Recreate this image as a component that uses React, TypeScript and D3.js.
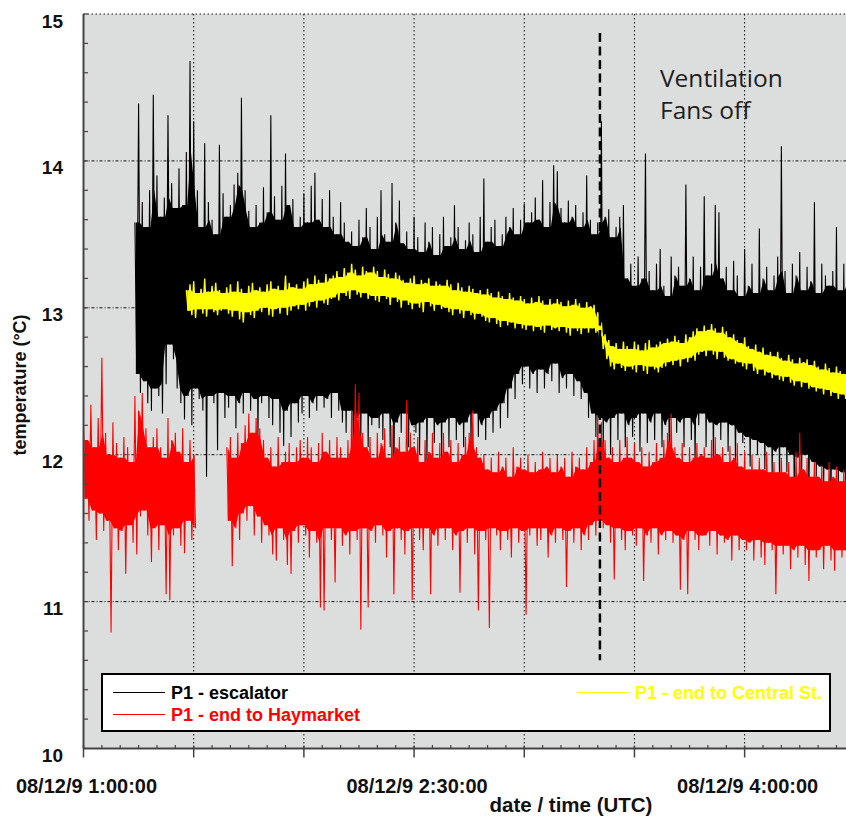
import React, { useEffect, useRef } from 'react';
import * as d3 from 'd3';

// minutes after 08/12/9 1:00:00, one high/low pair per minute
const escalatorStart = 14;
const escalatorHigh = [
  13.58, 14.39, 13.72, 13.55, 13.8, 14.45, 13.9, 13.62, 13.75, 14.31,
  13.85, 13.68, 13.95, 13.7, 14.06, 14.68, 14.27, 13.8, 13.55, 14.12,
  13.72, 13.6, 13.5, 14.11, 13.78, 13.62, 13.7, 13.84, 13.92, 14.43,
  13.8, 13.66, 13.55, 13.7, 13.58, 13.82, 13.65, 14.31, 13.76, 13.6,
  13.83, 14.05, 13.7, 13.74, 13.55, 13.62, 13.78, 13.58, 13.83, 13.92,
  13.6, 13.74, 13.55, 13.8, 13.62, 13.5, 13.72, 13.58, 13.45, 13.52,
  13.42, 13.6, 13.48, 13.68, 13.55, 13.4, 13.62, 13.8, 13.5, 13.45,
  13.85, 13.58, 13.73, 13.44, 13.52, 13.4, 13.62, 13.48, 13.38, 13.58,
  13.45, 13.55, 13.36, 13.5, 13.62, 13.42, 13.48, 13.7, 13.55, 13.4,
  13.46, 13.58, 13.5, 13.38, 13.62, 13.88, 13.45, 13.55, 13.6, 13.42,
  13.5, 13.62, 13.55, 13.68, 13.5, 13.6, 13.71, 13.58, 13.65, 13.75,
  13.6, 13.87, 13.55, 13.72, 13.97, 13.93, 13.68, 13.58, 13.73, 13.62,
  13.7, 13.55, 13.65, 13.9, 13.6, 13.5, 13.58, 14.27, 13.62, 13.67,
  13.48, 13.55, 13.62, 13.7, 13.2, 13.3, 13.15, 13.35, 13.2, 14.05,
  13.25, 13.12, 13.3, 13.4, 13.15, 13.08, 13.35, 13.22, 13.28, 13.15,
  13.84, 13.2, 13.35, 13.12, 13.28, 13.76, 13.22, 13.3, 13.7, 13.65,
  13.2, 13.28, 13.12, 13.32, 13.22, 13.08, 13.4, 13.15, 13.3, 13.1,
  13.54, 13.2, 13.28, 13.12, 13.22, 13.35, 14.1, 13.25, 13.1, 13.3,
  13.22, 13.38, 13.12, 13.28, 13.18, 13.72, 13.1, 13.3, 13.22, 13.15,
  13.25, 13.55, 13.12, 13.3, 13.18,
];
const escalatorLow = [
  12.55, 12.42, 12.5, 12.35, 12.3, 12.45, 12.4, 12.28, 12.48, 12.75,
  12.65, 12.45, 12.35, 12.24, 12.4, 12.2, 12.45, 12.38, 12.3, 11.85,
  12.4, 12.35, 12.03, 12.42, 12.25, 12.32, 12.4, 12.18, 12.35, 12.28,
  12.42, 12.3, 12.38, 12.12, 12.35, 12.4, 12.25, 12.2, 12.38, 12.15,
  12.06, 12.3, 12.12, 12.35, 12.22, 12.28, 12.4, 12.25, 12.35, 12.3,
  12.4, 12.32, 12.38, 12.25, 12.42, 12.3, 12.22, 12.15, 12.3, 11.85,
  12.25, 12.1, 12.28, 12.05, 12.2, 12.25, 12.18, 12.1, 12.28, 12.05,
  11.76, 12.22, 12.15, 12.28, 12.05, 12.2, 12.15, 12.0, 12.22, 11.95,
  12.25, 12.08, 12.2, 11.98, 12.22, 12.05, 12.25, 12.1, 12.2, 12.05,
  12.22, 12.05, 12.28, 12.12, 12.2, 12.1, 12.25, 12.15, 12.3, 12.18,
  12.35, 12.25, 12.45, 12.38, 12.55, 12.48, 12.6, 12.45, 12.55, 12.42,
  12.58, 12.45, 12.55, 12.5, 12.62, 12.42, 12.52, 12.45, 12.55, 12.4,
  12.5, 12.38, 12.42, 12.25, 12.28, 12.12, 12.25, 12.05, 12.22, 12.0,
  12.25, 12.1, 12.28, 12.05, 12.2, 12.12, 12.25, 12.02, 12.28, 12.08,
  12.22, 12.1, 12.28, 12.05, 12.2, 12.0, 12.25, 12.15, 12.22, 12.05,
  12.25, 12.1, 11.95, 12.2, 12.28, 12.05, 12.22, 11.98, 12.2, 12.1,
  12.22, 12.02, 12.2, 11.95, 12.15, 12.08, 12.12, 11.92, 12.1, 12.0,
  12.08, 11.9, 12.05, 11.85, 12.02, 11.8, 12.05, 11.88, 12.0, 11.75,
  11.98, 11.82, 12.0, 11.7, 11.95, 11.85, 11.92, 11.72, 11.9, 11.68,
  11.9, 11.75, 11.88, 11.7, 11.85,
];

// null = logger gap
const haymarketStart = 0;
const haymarketHigh = [
  12.2, 12.1, 12.34, 12.05, 12.25, 12.66, 12.15, 12.0, 12.22, 12.08,
  11.98, 12.12, 12.05, 11.95, 12.4, 12.3, 12.42, 12.18, 12.05, 12.12,
  12.18, 12.05, 11.98, 12.25, 12.1, 12.15, 12.02, 12.18, 11.95, 12.1,
  12.0, null, null, null, null, null, null, null, null,
  12.05, 12.12, 11.98, 12.15, 12.08, 12.2, 12.28, 12.15, 12.25, 12.18,
  12.1, 11.98, 12.05, 11.92, 12.12, 11.95, 12.02, 12.08, 11.95, 12.05,
  12.1, 11.98, 12.12, 12.05, 11.95, 12.08, 12.15, 12.02, 12.1, 11.98,
  12.12, 12.05, 11.98, 12.1, 12.3, 12.48, 12.42, 12.15, 12.05, 12.12,
  11.98, 12.15, 12.08, 12.18, 11.98, 12.2, 12.05, 12.12, 12.02, 12.37,
  12.15, 12.05, 12.12, 11.95, 12.1, 12.02, 12.15, 11.98, 12.08, 12.15,
  12.02, 12.1, 11.95, 12.08, 12.0, 12.12, 12.15, 12.3, 12.05, 11.98,
  12.0, 11.9, 11.98, 11.88, 12.02, 11.92, 11.98, 11.85, 12.05, 11.92,
  11.98, 11.9, 12.0, 11.88, 11.95, 11.9, 12.02, 11.92, 11.98, 11.88,
  12.0, 11.92, 11.98, 11.85, 12.02, 11.92, 11.98, 11.9, 12.05, 11.95,
  12.1, 12.27, 12.22, 12.1, 11.98, 12.05, 11.95, 12.1, 11.98, 12.12,
  11.98, 12.08, 11.95, 12.05, 11.92, 12.02, 11.95, 12.08, 11.98, 12.1,
  12.15, 12.28, 12.05, 11.98, 12.08, 11.95, 12.05, 11.98, 12.08, 12.0,
  12.05, 11.98, 12.1, 12.12, 12.0, 12.05, 11.95, 12.06, 11.98, 12.08,
  11.92, 12.02, 11.9, 12.0, 11.9, 11.98, 11.9, 12.02, 11.88, 11.95,
  11.88, 11.98, 11.88, 11.95, 11.85, 12.02, 12.15, 11.9, 11.98, 11.85,
  11.95, 11.85, 11.92, 11.82, 11.95, 11.85, 11.92, 11.82, 11.9, 11.85,
];
const haymarketLow = [
  11.7, 11.55, 11.62, 11.42, 11.6, 11.48, 11.55, 10.79, 11.5, 11.35,
  11.48, 11.19, 11.52, 11.4, 11.32, 11.58, 11.62, 11.45, 11.27, 11.5,
  11.35, 11.52, 11.05, 11.01, 11.45, 11.5, 11.38, 11.33, 11.55, 11.42,
  11.5, null, null, null, null, null, null, null, null,
  11.55, 11.24, 11.5, 11.42, 11.6, 11.55, 11.65, 11.45, 11.58, 11.4,
  11.52, 11.45, 11.32, 11.28, 11.5, 11.42, 11.25, 11.19, 11.48, 11.4,
  11.52, 11.45, 11.3, 11.48, 11.4, 10.96, 10.94, 11.5, 11.42, 11.13,
  11.5, 11.38, 11.45, 11.32, 11.48, 11.42, 10.81, 11.5, 10.96, 11.48,
  11.4, 11.52, 11.45, 11.3, 11.48, 11.05, 11.5, 11.42, 11.32, 11.48,
  11.01, 11.5, 11.42, 11.35, 11.5, 11.05, 11.45, 11.38, 11.5, 11.42,
  11.5, 11.35, 11.45, 11.06, 11.48, 11.4, 11.5, 11.32, 10.94, 11.48,
  11.42, 10.82, 11.5, 11.45, 11.35, 11.48, 11.42, 11.3, 11.5, 11.4,
  11.48, 10.91, 11.45, 11.5, 11.38, 11.42, 11.5, 11.3, 11.45, 11.4,
  11.5, 11.42, 11.1, 11.48, 11.4, 11.5, 11.35, 11.45, 11.42, 11.52,
  11.45, 11.55, 11.5, 11.52, 11.4, 11.15, 11.5, 11.42, 11.35, 11.48,
  11.45, 11.38, 11.5, 11.14, 11.45, 11.4, 11.5, 11.32, 11.45, 11.42,
  11.48, 11.4, 11.45, 11.08, 11.42, 11.05, 11.48, 11.42, 11.35, 11.45,
  11.45, 11.38, 11.48, 11.32, 11.45, 11.4, 11.42, 11.28, 11.45, 11.35,
  11.42, 11.35, 11.4, 11.28, 11.42, 11.3, 11.25, 11.4, 11.35, 11.05,
  11.38, 11.32, 11.38, 11.22, 11.35, 11.3, 11.38, 11.25, 11.14, 11.35,
  11.3, 11.35, 11.22, 11.38, 11.28, 11.21, 11.35, 11.3, 11.35, 11.25,
];

const centralStart = 28;
const centralHigh = [
  13.12, 13.16, 13.18, 13.1, 13.13, 13.2, 13.11, 13.15, 13.17, 13.12,
  13.1, 13.14, 13.16, 13.11, 13.18, 13.13, 13.1, 13.15, 13.17, 13.12,
  13.14, 13.11, 13.16, 13.18, 13.13, 13.15, 13.12, 13.22, 13.17, 13.14,
  13.16, 13.13, 13.18, 13.2, 13.16, 13.22, 13.19, 13.17, 13.23, 13.2,
  13.22, 13.25, 13.21, 13.27, 13.24, 13.3, 13.26, 13.22, 13.28, 13.25,
  13.24, 13.28, 13.25, 13.21, 13.26, 13.23, 13.2, 13.24, 13.22, 13.19,
  13.17, 13.2, 13.22, 13.16, 13.19, 13.17, 13.2, 13.15, 13.18, 13.16,
  13.15, 13.19, 13.16, 13.12, 13.17, 13.14, 13.11, 13.15, 13.13, 13.1,
  13.12, 13.09, 13.13, 13.1, 13.07, 13.11, 13.08, 13.06, 13.1, 13.07,
  13.05, 13.08, 13.06, 13.03, 13.07, 13.04, 13.08, 13.05, 13.02, 13.06,
  13.03, 13.06, 13.04, 13.01, 13.05, 13.02, 13.06, 13.03, 13.0, 13.04,
  13.01, 13.02, 12.97, 12.9, 12.82, 12.78, 12.74, 12.76, 12.72, 12.77,
  12.74, 12.72, 12.77, 12.75, 12.71, 12.76, 12.78, 12.73, 12.75, 12.77,
  12.76, 12.79, 12.77, 12.81, 12.78, 12.76, 12.82, 12.8, 12.84, 12.86,
  12.84, 12.88, 12.85, 12.89, 12.86, 12.83, 12.87, 12.84, 12.8, 12.82,
  12.78, 12.76, 12.8, 12.74, 12.72, 12.75, 12.7, 12.73, 12.68, 12.7,
  12.67, 12.7, 12.66, 12.64, 12.68, 12.65, 12.62, 12.66, 12.63, 12.65,
  12.61, 12.64, 12.6, 12.58, 12.62, 12.59, 12.56, 12.6, 12.57, 12.55,
  12.57,
];
const centralLow = [
  12.98, 12.95, 12.93, 12.99, 12.96, 12.94, 12.99, 12.97, 12.95, 12.98,
  12.99, 12.96, 12.94, 12.98, 12.92, 12.9, 12.97, 12.95, 12.93, 12.98,
  12.97, 13.0, 12.95, 12.94, 12.99, 12.96, 13.0, 12.95, 12.98, 13.01,
  12.99, 13.02, 12.98, 13.01, 13.04, 13.0, 13.05, 13.03, 13.02, 13.06,
  13.07, 13.05, 13.1, 13.08, 13.06, 13.12, 13.09, 13.07, 13.1, 13.06,
  13.08, 13.05, 13.04, 13.08, 13.06, 13.02, 13.07, 13.04, 13.0, 13.05,
  13.02, 12.99, 13.03, 13.0, 12.97, 13.04, 13.01, 12.98, 13.02, 12.99,
  13.0, 12.97, 12.95, 12.99, 12.96, 12.93, 12.98, 12.95, 12.92, 12.96,
  12.94, 12.91, 12.9, 12.93, 12.89, 12.87, 12.91, 12.88, 12.9, 12.86,
  12.89, 12.86, 12.85, 12.88, 12.84, 12.87, 12.85, 12.83, 12.88, 12.85,
  12.86, 12.84, 12.87, 12.83, 12.81, 12.86, 12.84, 12.82, 12.86, 12.83,
  12.86, 12.83, 12.8, 12.72, 12.65, 12.6, 12.58, 12.62, 12.59, 12.57,
  12.6, 12.58, 12.56, 12.61, 12.57, 12.55, 12.6, 12.58, 12.56, 12.59,
  12.6, 12.63, 12.61, 12.64, 12.6, 12.65, 12.63, 12.66, 12.64, 12.68,
  12.7, 12.67, 12.71, 12.68, 12.65, 12.7, 12.66, 12.64, 12.65, 12.62,
  12.63, 12.6, 12.58, 12.62, 12.57, 12.55, 12.58, 12.54, 12.56, 12.52,
  12.54, 12.51, 12.5, 12.53, 12.49, 12.47, 12.5, 12.46, 12.49, 12.45,
  12.46, 12.43, 12.45, 12.41, 12.44, 12.4, 12.42, 12.38, 12.41, 12.38,
  12.4,
];

const timeTicks = [0, 90, 180];
const timeTickLabels = ['08/12/9 1:00:00', '08/12/9 2:30:00', '08/12/9 4:00:00'];
const tempTicks = [10, 11, 12, 13, 14, 15];
const fansOffMinute = 140.6;
const fansOffRange = [10.6, 14.87];

type Pt = { t: number; v: number | null };
type Band = { t: number; top: number | null; bottom: number | null };

const zigzag = (start: number, high: (number | null)[], low: (number | null)[]): Pt[] =>
  high.flatMap((h, i) => [
    { t: start + i, v: h },
    { t: start + i + 0.5, v: low[i] },
  ]);

// solid core of the trace: lowest peak / highest trough of neighbouring minutes
const coreBand = (start: number, high: (number | null)[], low: (number | null)[]): Band[] =>
  high.map((h, i) => {
    if (h == null || low[i] == null) return { t: start + i, top: null, bottom: null };
    const hs = [high[i - 1], h, high[i + 1]].filter((v): v is number => v != null);
    const ls = [low[i - 1], low[i], low[i + 1]].filter((v): v is number => v != null);
    return { t: start + i + 0.25, top: d3.min(hs) ?? h, bottom: d3.max(ls) ?? (low[i] as number) };
  });

const App: React.FC = () => {
  const svgRef = useRef<SVGSVGElement | null>(null);
  const width = 846;
  const height = 819;

  useEffect(() => {
    if (!svgRef.current) return;
    const svg = d3.select(svgRef.current);
    svg.selectAll('*').remove();

    const left = 83.5;
    const top = 14;
    const bottom = 748.5;
    const pxPerMinute = 3.673;

    const x = d3.scaleLinear().domain([0, 210]).range([left, left + 210 * pxPerMinute]);
    const y = d3.scaleLinear().domain([10, 15]).range([bottom, top]);

    svg.append('rect').attr('width', width).attr('height', height).attr('fill', '#ffffff');

    svg
      .append('rect')
      .attr('x', left)
      .attr('y', top)
      .attr('width', width - left)
      .attr('height', bottom - top)
      .attr('fill', '#dcdddd');

    svg
      .append('defs')
      .append('clipPath')
      .attr('id', 'plot-clip')
      .append('rect')
      .attr('x', left)
      .attr('y', top)
      .attr('width', width - left)
      .attr('height', bottom - top);

    // grid
    const grid = svg.append('g');
    grid
      .selectAll('.hgrid')
      .data(tempTicks.filter(d => d > 10))
      .join('line')
      .attr('x1', left)
      .attr('x2', width)
      .attr('y1', d => y(d))
      .attr('y2', d => y(d))
      .attr('stroke', '#111')
      .attr('stroke-width', 1)
      .attr('stroke-dasharray', d => (d === 15 ? '1.5 2.5' : '3 2 1 2'));

    grid
      .selectAll('.vgrid')
      .data(d3.range(30, 211, 30))
      .join('line')
      .attr('x1', d => x(d))
      .attr('x2', d => x(d))
      .attr('y1', top)
      .attr('y2', bottom)
      .attr('stroke', '#111')
      .attr('stroke-width', 1)
      .attr('stroke-dasharray', '1.5 2.5');

    const plot = svg.append('g').attr('clip-path', 'url(#plot-clip)');
    const line = d3
      .line<Pt>()
      .defined(d => d.v != null)
      .x(d => x(d.t))
      .y(d => y(d.v as number));
    const area = d3
      .area<Band>()
      .defined(d => d.top != null)
      .x(d => x(d.t))
      .y0(d => y(d.bottom as number))
      .y1(d => y(d.top as number));

    const series = [
      { start: escalatorStart, high: escalatorHigh, low: escalatorLow, color: '#000000', width: 1.1 },
      { start: haymarketStart, high: haymarketHigh, low: haymarketLow, color: '#ff0000', width: 1.1 },
      { start: centralStart, high: centralHigh, low: centralLow, color: '#ffff00', width: 1.4 },
    ];
    series.forEach(s => {
      plot
        .append('path')
        .datum(coreBand(s.start, s.high, s.low))
        .attr('fill', s.color)
        .attr('d', area);
      plot
        .append('path')
        .datum(zigzag(s.start, s.high, s.low))
        .attr('fill', 'none')
        .attr('stroke', s.color)
        .attr('stroke-width', s.width)
        .attr('d', line);
    });

    plot
      .append('line')
      .attr('x1', x(fansOffMinute))
      .attr('x2', x(fansOffMinute))
      .attr('y1', y(fansOffRange[1]))
      .attr('y2', y(fansOffRange[0]))
      .attr('stroke', '#000')
      .attr('stroke-width', 2.5)
      .attr('stroke-dasharray', '9 4.5');

    // axes
    const axis = svg.append('g').attr('stroke', '#444');
    axis.append('line').attr('x1', left).attr('x2', left).attr('y1', top).attr('y2', bottom).attr('stroke-width', 2);
    axis.append('line').attr('x1', left).attr('x2', width).attr('y1', bottom).attr('y2', bottom).attr('stroke-width', 2);

    axis
      .selectAll('.ytick')
      .data(d3.range(10.2, 15, 0.2))
      .join('line')
      .attr('x1', left)
      .attr('x2', left + 4.5)
      .attr('y1', d => y(d))
      .attr('y2', d => y(d))
      .attr('stroke-width', 1.2);

    axis
      .selectAll('.xminor')
      .data(d3.range(5, 211, 5).filter(d => d % 30 !== 0))
      .join('line')
      .attr('x1', d => x(d))
      .attr('x2', d => x(d))
      .attr('y1', bottom - 3.5)
      .attr('y2', bottom)
      .attr('stroke-width', 1.2);

    axis
      .selectAll('.xmajor')
      .data(d3.range(0, 211, 30))
      .join('line')
      .attr('x1', d => x(d))
      .attr('x2', d => x(d))
      .attr('y1', bottom - 3)
      .attr('y2', bottom + 9)
      .attr('stroke-width', 1.5);

    const labels = svg
      .append('g')
      .attr('font-family', '"Liberation Sans", Arial, sans-serif')
      .attr('font-weight', 700)
      .attr('fill', '#111');

    labels
      .selectAll('.ylabel')
      .data(tempTicks)
      .join('text')
      .attr('x', 63)
      .attr('y', d => y(d) + 13.5)
      .attr('text-anchor', 'end')
      .attr('font-size', 19)
      .text(d => String(d));

    labels
      .selectAll('.xlabel')
      .data(timeTicks)
      .join('text')
      .attr('x', d => x(d) + 3)
      .attr('y', 793)
      .attr('text-anchor', 'middle')
      .attr('font-size', 20)
      .text((_, i) => timeTickLabels[i]);

    labels
      .append('text')
      .attr('x', 571)
      .attr('y', 812)
      .attr('text-anchor', 'middle')
      .attr('font-size', 20.5)
      .text('date / time (UTC)');

    labels
      .append('text')
      .attr('transform', 'translate(26,385) rotate(-90)')
      .attr('text-anchor', 'middle')
      .attr('font-size', 18)
      .text('temperature (°C)');

    // annotation
    const note = svg
      .append('g')
      .attr('font-family', '"Open Sans", "Noto Sans", sans-serif')
      .attr('font-size', 24.5)
      .attr('fill', '#1e1e1e');
    note.append('text').attr('x', 660).attr('y', 87).text('Ventilation');
    note.append('text').attr('x', 660).attr('y', 119).text('Fans off');

    // legend
    const legend = svg.append('g');
    legend
      .append('rect')
      .attr('x', 102)
      .attr('y', 674)
      .attr('width', 728)
      .attr('height', 57)
      .attr('fill', '#ffffff')
      .attr('stroke', '#000')
      .attr('stroke-width', 2);

    const legendItems = [
      { label: 'P1 - escalator', color: '#000000', x: 113, y: 692.5 },
      { label: 'P1 - end to Haymarket', color: '#ff0000', x: 113, y: 714.5 },
      { label: 'P1 - end to Central St.', color: '#ffff00', x: 577, y: 692.5 },
    ];
    legendItems.forEach(item => {
      legend
        .append('line')
        .attr('x1', item.x)
        .attr('x2', item.x + 52)
        .attr('y1', item.y)
        .attr('y2', item.y)
        .attr('stroke', item.color)
        .attr('stroke-width', 1.2);
      legend
        .append('text')
        .attr('x', item.x + 58)
        .attr('y', item.y + 6)
        .attr('font-family', '"Liberation Sans", Arial, sans-serif')
        .attr('font-weight', 700)
        .attr('font-size', 18)
        .attr('fill', item.color)
        .text(item.label);
    });
  }, []);

  return (
    <div style={{ position: 'absolute', left: 0, top: 0 }}>
      <svg ref={svgRef} width={width} height={height} viewBox={`0 0 ${width} ${height}`} />
    </div>
  );
};

export default App;
